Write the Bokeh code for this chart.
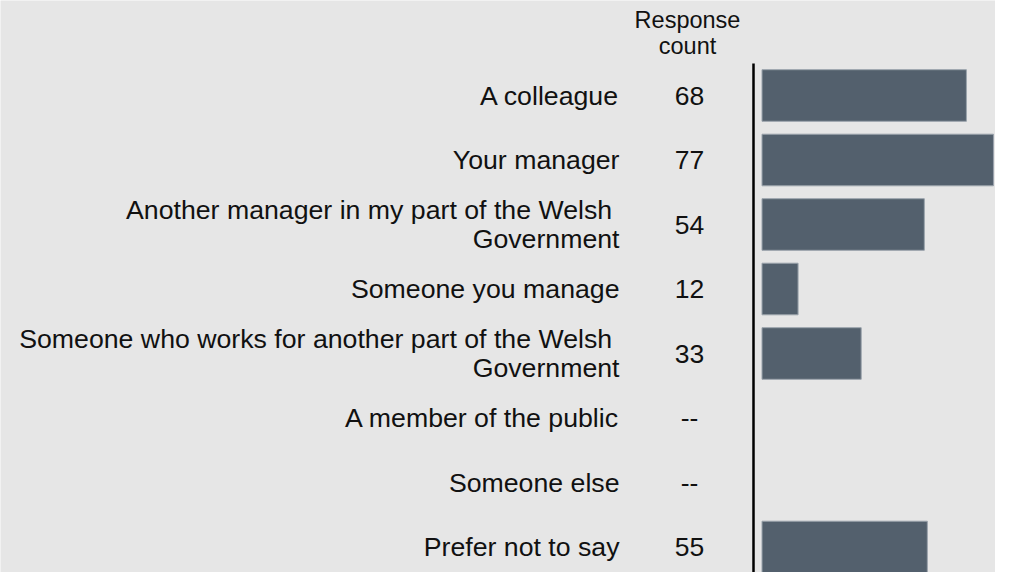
from bokeh.plotting import figure
from bokeh.models import Range1d
from bokeh.core.properties import value
from bokeh.embed import file_html
from bokeh.resources import INLINE

# ---- data ----
categories = [
    "A colleague",
    "Your manager",
    "Another manager in my part of the Welsh\u00a0\nGovernment",
    "Someone you manage",
    "Someone who works for another part of the Welsh\u00a0\nGovernment",
    "A member of the public",
    "Someone else",
    "Prefer not to say",
]
counts = [68, 77, 54, 12, 33, None, None, 55]
header = "Response\ncount"

# ---- layout helpers (pixel geometry) ----
W, H = 995, 572
ZERO_PX = 761.5          # frame x where value 0 sits
SCALE = 3.006            # px per unit
ROW0 = 95.0              # frame y of first row centre
PITCH = 64.5             # px per row

def xd(px):
    return (px - ZERO_PX) / SCALE

def yd(py):
    return (py - ROW0) / PITCH

BG = "#e6e6e6"
BAR = "#53606d"
FONT = "Liberation Sans"
TXT = "#111111"

p = figure(width=W, height=H, output_backend="svg", toolbar_location=None,
           x_range=Range1d(xd(0), xd(W)),
           y_range=Range1d(yd(H), yd(0)),
           min_border=0, background_fill_color=BG, border_fill_color=BG)
p.outline_line_color = None
p.xaxis.visible = False
p.yaxis.visible = False
p.grid.visible = False

rows = list(range(len(categories)))
bar_rows = [i for i, c in enumerate(counts) if c is not None]
bar_vals = [counts[i] for i in bar_rows]

p.hbar(y=bar_rows, left=0, right=bar_vals, height=0.8,
       fill_color=BAR, line_color="#9aa3ac", line_width=1)

# axis line
p.segment(x0=[xd(753)], y0=[yd(63)], x1=[xd(753)], y1=[yd(H)],
          line_color="black", line_width=2.5)

# category labels
p.text(x=[xd(619)] * len(rows), y=rows, text=categories,
       text_align="right", text_baseline="middle",
       text_font=value(FONT), text_font_size="26.7px", text_color=TXT,
       text_line_height=0.98)

# counts
count_txt = [str(c) if c is not None else "--" for c in counts]
p.text(x=[xd(689)] * len(rows), y=rows, text=count_txt,
       text_align="center", text_baseline="middle",
       text_font=value(FONT), text_font_size="26.5px", text_color=TXT)

# header
p.text(x=[xd(687)], y=[yd(32)], text=[header],
       text_align="center", text_baseline="middle",
       text_font=value(FONT), text_font_size="23.5px", text_color=TXT,
       text_line_height=1.0)

open("out.html", "w").write(file_html(p, INLINE))
